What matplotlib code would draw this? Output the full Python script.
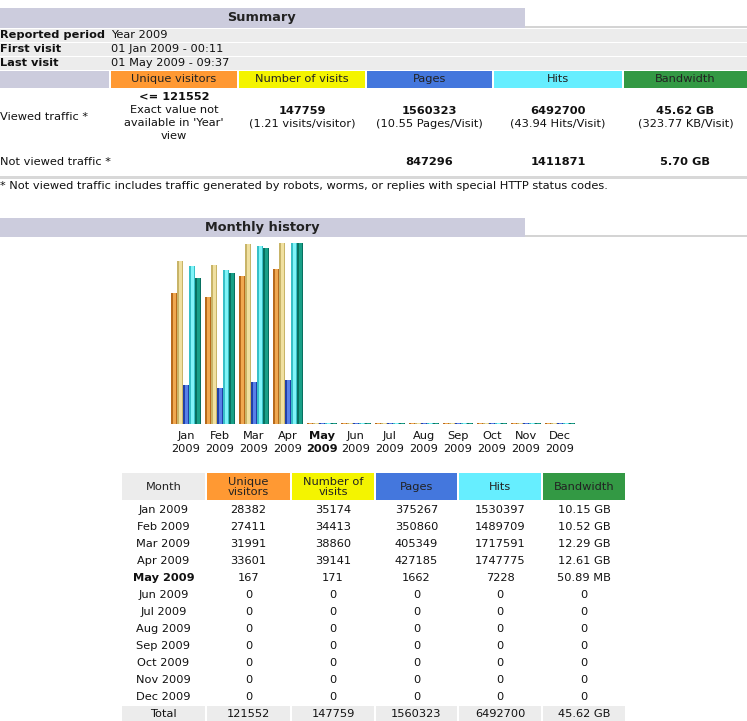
import numpy as np
import matplotlib.pyplot as plt
from matplotlib.patches import Rectangle

# ---- data ----
months = ['Jan', 'Feb', 'Mar', 'Apr', 'May', 'Jun', 'Jul', 'Aug', 'Sep', 'Oct', 'Nov', 'Dec']
year = '2009'
unique = [28382, 27411, 31991, 33601, 167, 0, 0, 0, 0, 0, 0, 0]
visits = [35174, 34413, 38860, 39141, 171, 0, 0, 0, 0, 0, 0, 0]
pages = [375267, 350860, 405349, 427185, 1662, 0, 0, 0, 0, 0, 0, 0]
hits = [1530397, 1489709, 1717591, 1747775, 7228, 0, 0, 0, 0, 0, 0, 0]
bandwidth_gb = [10.15, 10.52, 12.29, 12.61, 50.89 / 1024, 0, 0, 0, 0, 0, 0, 0]
bandwidth_txt = ['10.15 GB', '10.52 GB', '12.29 GB', '12.61 GB', '50.89 MB',
                 '0', '0', '0', '0', '0', '0', '0']
totals = ['121552', '147759', '1560323', '6492700', '45.62 GB']
current_month = 'May'

summary_rows = [('Reported period', 'Year 2009'),
                ('First visit', '01 Jan 2009 - 00:11'),
                ('Last visit', '01 May 2009 - 09:37')]
columns = ['Unique visitors', 'Number of visits', 'Pages', 'Hits', 'Bandwidth']
viewed_main = ['<= 121552', '147759', '1560323', '6492700', '45.62 GB']
viewed_sub = [["Exact value not", "available in 'Year'", "view"], ['(1.21 visits/visitor)'],
              ['(10.55 Pages/Visit)'], ['(43.94 Hits/Visit)'], ['(323.77 KB/Visit)']]
not_viewed = ['', '', '847296', '1411871', '5.70 GB']
footnote = ('* Not viewed traffic includes traffic generated by robots, worms, '
            'or replies with special HTTP status codes.')

# ---- styles ----
head_cols = ['#ff9933', '#f4f400', '#4477dd', '#66eeff', '#339944']
bar_dark = ['#b86a1c', '#c8b468', '#2040a8', '#38c0c8', '#087060']
bar_light = ['#f0a850', '#f0e0a0', '#5880e8', '#80f4f8', '#18a088']
lav = '#ccccdd'
grey = '#ececec'
fs = 8.2
txt = '#111111'

W, H = 747, 721
fig = plt.figure(figsize=(W / 100, H / 100), dpi=100)
ax = fig.add_axes([0, 0, 1, 1])
ax.set_xlim(0, W)
ax.set_ylim(H, 0)
ax.axis('off')


def box(x0, y0, x1, y1, c):
    ax.add_patch(Rectangle((x0, y0), x1 - x0, y1 - y0, color=c, lw=0))


# ---- Summary ----
box(0, 8, 525, 28, lav)
box(525, 26, W, 28, '#d4d4d4')
ax.text(262, 18, 'Summary', ha='center', va='center', fontsize=9.3, weight='bold', color='#222')
for i, (k, v) in enumerate(summary_rows):
    y0 = 29 + i * 14
    box(0, y0, W, y0 + 13, grey)
    ax.text(0, y0 + 6.5, k, ha='left', va='center', fontsize=fs, weight='bold', color=txt)
    ax.text(111, y0 + 6.5, v, ha='left', va='center', fontsize=fs, color=txt)

col_x = [(111, 237), (239, 365), (367, 492), (494, 622), (624, W)]
box(0, 71, 109, 88, lav)
for (x0, x1), c, name in zip(col_x, head_cols, columns):
    box(x0, 71, x1, 88, c)
    ax.text((x0 + x1) / 2, 79.5, name, ha='center', va='center', fontsize=fs, color='#222')

ax.text(0, 117, 'Viewed traffic *', ha='left', va='center', fontsize=fs, color=txt)
for j, ((x0, x1), m, s) in enumerate(zip(col_x, viewed_main, viewed_sub)):
    cx = (x0 + x1) / 2
    y = 97 if j == 0 else 111
    ax.text(cx, y, m, ha='center', va='center', fontsize=fs, weight='bold', color=txt)
    for line in s:
        y += 13
        ax.text(cx, y, line, ha='center', va='center', fontsize=fs, color=txt)

ax.text(0, 162, 'Not viewed traffic *', ha='left', va='center', fontsize=fs, color=txt)
for (x0, x1), v in zip(col_x, not_viewed):
    ax.text((x0 + x1) / 2, 162, v, ha='center', va='center', fontsize=fs, weight='bold', color=txt)
box(0, 176, W, 179, '#d8d8d8')
ax.text(0, 186, footnote, ha='left', va='center', fontsize=fs, color=txt)

# ---- Monthly history ----
box(0, 218, 525, 237, lav)
box(525, 235, W, 237, '#d4d4d4')
ax.text(262, 227.5, 'Monthly history', ha='center', va='center', fontsize=9.3, weight='bold', color='#222')

cax = fig.add_axes([169 / W, (H - 424) / H, 408 / W, 181 / H])
cax.set_xlim(-0.5, 11.5)
cax.set_ylim(0, 1)
cax.axis('off')

series = [np.array(unique, float) / max(visits),
          np.array(visits, float) / max(visits),
          np.array(pages, float) / max(hits),
          np.array(hits, float) / max(hits),
          np.array(bandwidth_gb) / max(bandwidth_gb)]
px = 1 / 34.0
x = np.arange(len(months))
for k, h in enumerate(series):
    h = np.maximum(h, 1.2 / 181)
    off = (k - 2) * 6 * px
    cax.bar(x + off, h, width=6 * px, color=bar_dark[k], lw=0)
    cax.bar(x + off + 0.4 * px, h, width=3.2 * px, color=bar_light[k], lw=0)

for i, m in enumerate(months):
    cx = 186 + 34 * i
    wgt = 'bold' if m == current_month else 'normal'
    ax.text(cx, 436, m, ha='center', va='center', fontsize=fs, weight=wgt, color=txt)
    ax.text(cx, 449, year, ha='center', va='center', fontsize=fs, weight=wgt, color=txt)

# ---- monthly table ----
tcols = [(122, 205), (207, 290), (292, 374), (376, 457), (459, 541), (543, 625)]
theads = ['Month', 'Unique\nvisitors', 'Number of\nvisits', 'Pages', 'Hits', 'Bandwidth']
for (x0, x1), c, name in zip(tcols, [grey] + head_cols, theads):
    box(x0, 473, x1, 500, c)
    ax.text((x0 + x1) / 2, 487, name, ha='center', va='center', fontsize=fs,
            color='#222', linespacing=1.0)

for i, m in enumerate(months):
    y = 510 + 17 * i
    wgt = 'bold' if m == current_month else 'normal'
    row = [m + ' ' + year, str(unique[i]), str(visits[i]), str(pages[i]),
           str(hits[i]), bandwidth_txt[i]]
    for c, ((x0, x1), v) in enumerate(zip(tcols, row)):
        ax.text((x0 + x1) / 2, y, v, ha='center', va='center', fontsize=fs,
                weight=wgt if c == 0 else 'normal', color=txt)

for (x0, x1), v in zip(tcols, ['Total'] + totals):
    box(x0, 706, x1, H, grey)
    ax.text((x0 + x1) / 2, 714, v, ha='center', va='center', fontsize=fs, color=txt)

fig.savefig('out.png', dpi=100)
